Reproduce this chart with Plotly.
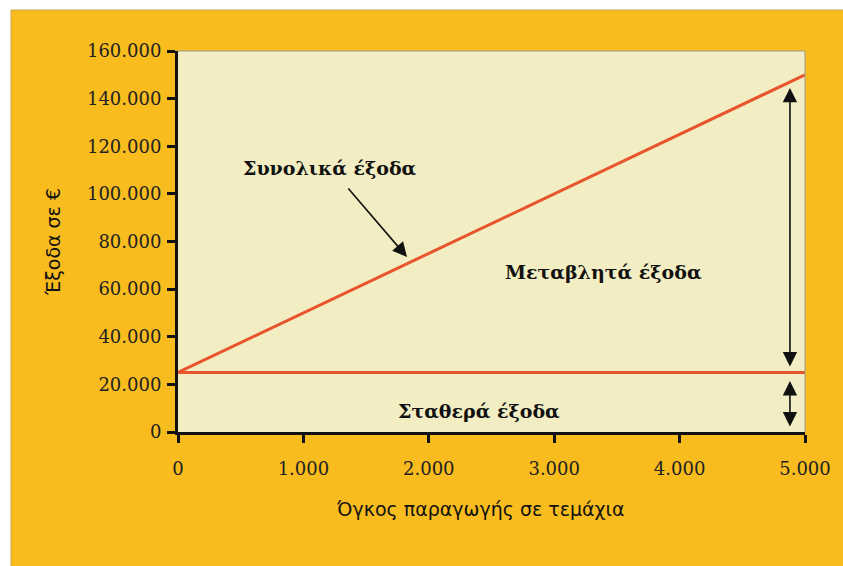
import plotly.graph_objects as go

# Data
units = [0, 5000]
fixed_costs = [25000, 25000]
total_costs = [25000, 150000]
x_ticks = [0, 1000, 2000, 3000, 4000, 5000]
x_tick_labels = ["0", "1.000", "2.000", "3.000", "4.000", "5.000"]
y_ticks = [0, 20000, 40000, 60000, 80000, 100000, 120000, 140000, 160000]
y_tick_labels = ["0", "20.000", "40.000", "60.000", "80.000", "100.000", "120.000", "140.000", "160.000"]

ORANGE_BG = "#F8BC1F"
PLOT_BG = "#F2EDC2"
LINE = "#E8542C"

fig = go.Figure()
fig.add_trace(go.Scatter(x=units, y=fixed_costs, mode="lines",
                         line=dict(color=LINE, width=3), showlegend=False, hoverinfo="skip"))
fig.add_trace(go.Scatter(x=units, y=total_costs, mode="lines",
                         line=dict(color=LINE, width=3), showlegend=False, hoverinfo="skip"))

W, H = 843, 566
L, R, T, B = 178, 38, 51, 134
pw, ph = W - L - R, H - T - B

def px(xp):
    return (xp - L) / pw

def py(yp):
    return (H - B - yp) / ph

label_font = dict(family="DejaVu Serif", size=19, color="#111111")

annotations = [
    dict(x=1212, y=110900, text="<b>Συνολικά έξοδα</b>", showarrow=False, font=label_font,
         xref="x", yref="y"),
    dict(x=3397, y=67200, text="<b>Μεταβλητά έξοδα</b>", showarrow=False, font=label_font,
         xref="x", yref="y"),
    dict(x=2400, y=8800, text="<b>Σταθερά έξοδα</b>", showarrow=False, font=label_font,
         xref="x", yref="y"),
    # x axis title
    dict(x=px(480), y=py(522), xref="paper", yref="paper", text="Όγκος παραγωγής σε τεμάχια",
         showarrow=False, font=dict(family="DejaVu Sans", size=19, color="#111111")),
    # arrow pointing to total cost line
    dict(x=1826, y=73500, ax=1348, ay=102900, xref="x", yref="y", axref="x", ayref="y",
         text="", showarrow=True, arrowhead=2, arrowsize=1.8, arrowwidth=1.6, arrowcolor="#111111"),
    # variable cost double arrow
    dict(x=4880, y=144500, ax=4880, ay=26900, xref="x", yref="y", axref="x", ayref="y",
         text="", showarrow=True, arrowhead=2, startarrowhead=2, arrowside="end+start",
         arrowsize=1.8, startarrowsize=1.8, arrowwidth=1.6, arrowcolor="#111111"),
    # fixed cost double arrow
    dict(x=4880, y=21400, ax=4880, ay=1700, xref="x", yref="y", axref="x", ayref="y",
         text="", showarrow=True, arrowhead=2, startarrowhead=2, arrowside="end+start",
         arrowsize=1.8, startarrowsize=1.8, arrowwidth=1.6, arrowcolor="#111111"),
]

shapes = [
    # white page margin (left and top)
    dict(type="rect", xref="paper", yref="paper", x0=px(-5), x1=px(11), y0=py(H + 5), y1=py(-5),
         fillcolor="white", line=dict(width=0), layer="above"),
    dict(type="rect", xref="paper", yref="paper", x0=px(-5), x1=px(W + 5), y0=py(10), y1=py(-5),
         fillcolor="white", line=dict(width=0), layer="above"),
    dict(type="line", xref="paper", yref="paper", x0=px(11), x1=px(11), y0=py(10), y1=py(H + 5),
         line=dict(color="#C9A24A", width=1), layer="above"),
    dict(type="line", xref="paper", yref="paper", x0=px(11), x1=px(W + 5), y0=py(10), y1=py(10),
         line=dict(color="#C9A24A", width=1), layer="above"),
    # plot area grey border top/right
    dict(type="line", xref="paper", yref="paper", x0=0, x1=1, y0=1, y1=1,
         line=dict(color="#9A9A8A", width=1), layer="above"),
    dict(type="line", xref="paper", yref="paper", x0=1, x1=1, y0=0, y1=1,
         line=dict(color="#9A9A8A", width=1), layer="above"),
]

fig.update_layout(
    width=W, height=H,
    margin=dict(l=L, r=R, t=T, b=B),
    paper_bgcolor=ORANGE_BG,
    plot_bgcolor=PLOT_BG,
    annotations=annotations,
    shapes=shapes,
    showlegend=False,
)

fig.update_xaxes(
    range=[0, 5000], tickvals=x_ticks, ticktext=x_tick_labels,
    showgrid=False, zeroline=False, showline=True, linecolor="#111111", linewidth=3,
    ticks="outside", ticklen=8, tickwidth=3, tickcolor="#111111",
    tickfont=dict(family="DejaVu Serif", size=18, color="#222222"),
    ticklabelstandoff=10,
)
fig.update_yaxes(
    range=[0, 160000], tickvals=y_ticks, ticktext=y_tick_labels,
    showgrid=False, zeroline=False, showline=True, linecolor="#111111", linewidth=3,
    ticks="outside", ticklen=8, tickwidth=3, tickcolor="#111111",
    tickfont=dict(family="DejaVu Serif", size=18, color="#222222"),
    ticklabelstandoff=2,
    title=dict(text="Έξοδα σε €", standoff=22,
               font=dict(family="DejaVu Sans", size=19, color="#111111")),
)

fig.write_html(
    "out.html",
    config={"displayModeBar": False},
    post_script=(
        "document.body.style.margin='0';"
        "document.body.style.overflow='hidden';"
        "document.documentElement.style.background='" + ORANGE_BG + "';"
        "document.body.style.background='" + ORANGE_BG + "';"
    ),
)
